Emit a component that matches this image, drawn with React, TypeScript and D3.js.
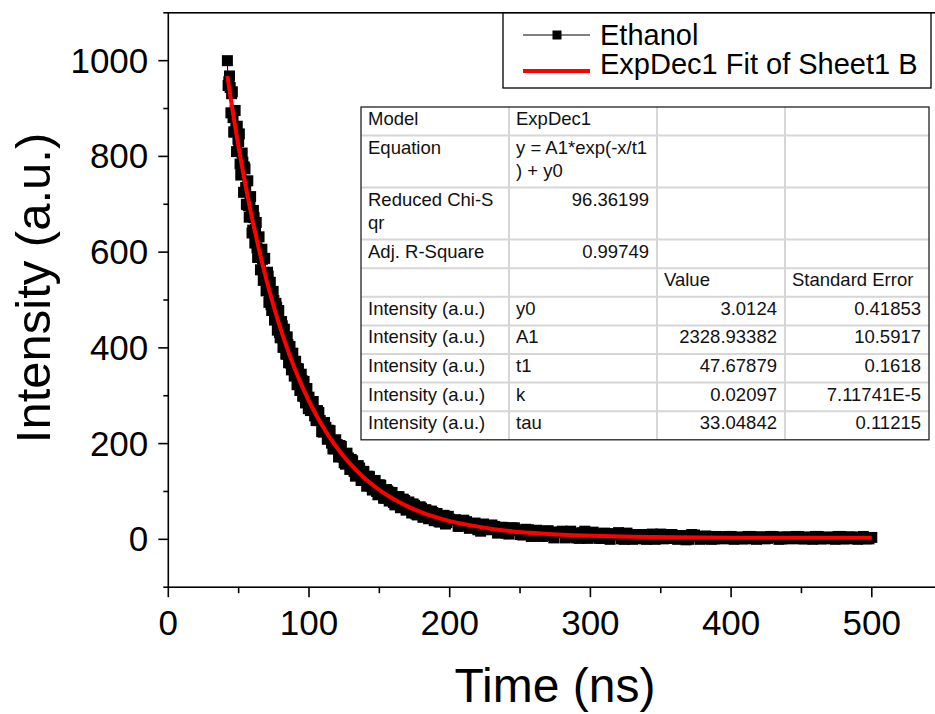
import React from "react";
import * as d3 from "d3";

// ---- data ----
const timeEarly = [42,43,44,45,46,47,48,49,50,51,52,53,54,55,56,57,58,59,60,61,62,63,64,65,66,67,68,69,70,71,72,73,74,75,76,77,78,79,80,81,82,83,84,85,86,87,88,89,90,91,92,93,94,95,96,97,98,99,100];
const intensityEarly = [1000,956,944,931,881,851,858,863,831,784,780,788,778,735,699,697,707,685,646,672,647,609,589,602,604,585,550,543,556,550,514,490,503,499,464,485,451,432,448,446,411,416,387,407,395,368,385,356,343,357,356,329,315,332,320,298,314,291,297];
const timeEarlyHalf = [42.5,43.5,44.5,45.5,46.5,47.5,48.5,49.5,50.5,51.5,52.5,53.5,54.5,55.5,56.5,57.5,58.5,59.5,60.5,61.5,62.5,63.5,64.5,65.5,66.5,67.5,68.5,69.5,70.5,71.5,72.5,73.5,74.5,75.5,76.5,77.5,78.5,79.5,80.5,81.5,82.5,83.5,84.5,85.5,86.5,87.5,88.5,89.5,90.5,91.5,92.5,93.5,94.5,95.5,96.5,97.5,98.5,99.5];
const intensityEarlyHalf = [948,968,891,935,851,896,810,836,847,761,807,725,774,700,749,673,716,640,687,619,662,589,632,563,606,541,587,519,558,495,537,478,518,458,493,437,478,421,455,401,439,387,423,369,403,354,389,341,372,323,356,311,345,299,330,285,315,273];
const timeMid = [102,104,106,108,110,112,114,116,118,120,122,124,126,128,130,132,134,136,138,140,142,144,146,148,150,152,154,156,158,160,162,164,166,168,170,172,174,176,178,180,182,184,186,188,190,192,194,196,198,200];
const intensityMid = [287,258,269,248,224,234,228,201,189,198,196,172,157,170,167,142,148,149,123,130,132,111,121,100,114,101,86,101,94,77,89,89,70,81,63,73,74,53,64,65,48,59,46,56,52,38,48,50,35,42];
const timeMidOdd = [101,103,105,107,109,111,113,115,117,119,121,123,125,127,129,131,133,135,137,139,141,143,145,147,149,151,153,155,157,159,161,163,165,167,169,171,173,175,177,179,181,183,185,187,189,191,193,195,197,199];
const intensityMidOdd = [269,288,248,265,225,244,209,227,189,208,172,194,160,180,146,164,132,154,123,142,111,131,103,123,93,113,86,104,80,98,72,89,66,84,61,78,55,71,51,68,46,62,43,59,39,54,36,50,32,48];
const timeLate = [204,208,212,216,220,224,228,232,236,240,244,248,252,256,260,264,268,272,276,280,284,288,292,296,300,304,308,312,316,320,324,328,332,336,340,344,348,352,356,360,364,368,372,376,380,384,388,392,396,400,404,408,412,416,420,424,428,432,436,440,444,448,452,456,460,464,468,472,476,480,484,488,492,496,500];
const intensityLate = [41,28,37,31,20,32,20,27,25,13,24,18,9,20,17,7,17,8,15,17,5,12,2,17,5,11,2,12,9,14,0,10,2,10,0,11,6,1,10,2,8,-1,10,6,2,6,1,5,2,6,4,1,6,2,5,1,6,4,1,5,2,6,1,4,6,1,4,2,6,1,5,2,4,1,4];
const timeLateMid = [206,210,214,218,222,226,230,234,238,242,246,250,254,258,262,266,270,274,278,282,286,290,294,298,302,306,310,314,318,322,326,330,334,338,342,346,350,354,358,362,366,370,374,378,382,386,390,394,398,402,406,410,414,418,422,426,430,434,438,442,446,450,454,458,462,466,470,474,478,482,486,490,494,498];
const intensityLateMid = [27,40,23,34,17,29,30,13,25,11,24,10,21,6,19,6,18,3,15,3,17,3,14,2,15,2,13,0,11,1,13,0,10,1,10,0,11,2,10,0,8,0,9,0,7,0,6,1,6,0,5,1,6,0,5,2,6,0,5,1,6,1,5,0,6,1,5,0,6,1,5,0,6,1];

const fitTime = [42,44,46,48,50,52,55,58,61,64,67,70,74,78,82,86,90,95,100,106,112,118,124,130,138,146,154,162,170,180,190,200,215,230,245,260,280,300,330,360,400,440,480,500];
const fitIntensity = [968,928.5,890.4,854,819,785.5,737.8,693,651,611.4,574.3,539.5,496.3,456.7,420.2,386.6,355.7,320.6,289,255.2,225.4,199.1,175.9,155.5,131.9,112,95.2,80.9,68.9,56.4,46.3,38.1,29.1,21.7,16.6,13.0,9.5,7.3,5.3,4.2,3.5,3.2,3.1,3.1];

const xTicks = [0, 100, 200, 300, 400, 500];
const xMinor = [50, 150, 250, 350, 450, 550];
const yTicks = [0, 200, 400, 600, 800, 1000];
const yMinor = [-100, 100, 300, 500, 700, 900, 1100];

const legendLabels = ["Ethanol", "ExpDec1 Fit of Sheet1 B"];

const tableRows: { cells: string[][]; tall: boolean }[] = [
  { cells: [["Model"], ["ExpDec1"], [""], [""]], tall: false },
  { cells: [["Equation"], ["y = A1*exp(-x/t1", ") + y0"], [""], [""]], tall: true },
  { cells: [["Reduced Chi-S", "qr"], ["96.36199"], [""], [""]], tall: true },
  { cells: [["Adj. R-Square"], ["0.99749"], [""], [""]], tall: false },
  { cells: [[""], [""], ["Value"], ["Standard Error"]], tall: false },
  { cells: [["Intensity (a.u.)"], ["y0"], ["3.0124"], ["0.41853"]], tall: false },
  { cells: [["Intensity (a.u.)"], ["A1"], ["2328.93382"], ["10.5917"]], tall: false },
  { cells: [["Intensity (a.u.)"], ["t1"], ["47.67879"], ["0.1618"]], tall: false },
  { cells: [["Intensity (a.u.)"], ["k"], ["0.02097"], ["7.11741E-5"]], tall: false },
  { cells: [["Intensity (a.u.)"], ["tau"], ["33.04842"], ["0.11215"]], tall: false },
];
const tableAlign: string[][] = [
  ["l", "l", "l", "l"],
  ["l", "l", "l", "l"],
  ["l", "r", "l", "l"],
  ["l", "r", "l", "l"],
  ["l", "l", "l", "l"],
  ["l", "l", "r", "r"],
  ["l", "l", "r", "r"],
  ["l", "l", "r", "r"],
  ["l", "l", "r", "r"],
  ["l", "l", "r", "r"],
];

const FONT = "Arial, 'Liberation Sans', Helvetica, sans-serif";

export default function App() {
  const W = 935, H = 714;
  const left = 168.3, top = 12.8, bottom = 587.2;
  const x = d3.scaleLinear().domain([0, 550]).range([left, left + 550 * 1.407]);
  const y = d3.scaleLinear().domain([-100, 1100]).range([bottom, top]);

  const time = [...timeEarly, ...timeEarlyHalf, ...timeMid, ...timeMidOdd, ...timeLate, ...timeLateMid];
  const inten = [...intensityEarly, ...intensityEarlyHalf, ...intensityMid, ...intensityMidOdd, ...intensityLate, ...intensityLateMid];
  const pts = time.map((t, i) => [t, inten[i]] as [number, number]).sort((a, b) => a[0] - b[0]);
  const fitPts = fitTime.map((t, i) => [t, fitIntensity[i]] as [number, number]);

  const line = d3.line<[number, number]>().x(d => x(d[0])).y(d => y(d[1]));
  const fitLine = d3.line<[number, number]>().x(d => x(d[0])).y(d => y(d[1])).curve(d3.curveMonotoneX);

  const sq = 11;
  const right = x(550);

  const tLeft = 361, tTop = 107;
  const colX = [361, 509, 657, 785, 929];
  const rowH = 28.6, tallH = 52;
  const rowTops: number[] = [];
  let acc = tTop;
  tableRows.forEach(r => { rowTops.push(acc); acc += r.tall ? tallH : rowH; });
  const tBottom = acc;

  return (
    <svg width={W} height={H} style={{ position: "absolute", left: 0, top: 0, background: "#fff" }} fontFamily={FONT}>
      <rect x={0} y={0} width={W} height={H} fill="#fff" />
      <path d={line(pts) || ""} fill="none" stroke="#000" strokeWidth={1} />
      {pts.map((p, i) => (
        <rect key={i} x={x(p[0]) - sq / 2} y={y(p[1]) - sq / 2} width={sq} height={sq} fill="#000" />
      ))}
      <path d={fitLine(fitPts) || ""} fill="none" stroke="#ff0000" strokeWidth={4} />

      <rect x={left} y={top} width={right - left} height={bottom - top} fill="none" stroke="#000" strokeWidth={1.6} />
      {yTicks.map(v => (
        <g key={"y" + v}>
          <line x1={left - 10} x2={left} y1={y(v)} y2={y(v)} stroke="#000" strokeWidth={1.6} />
          <text x={left - 20} y={y(v) + 12} textAnchor="end" fontSize={35} fill="#000">{v}</text>
        </g>
      ))}
      {yMinor.map(v => (
        <line key={"ym" + v} x1={left - 5} x2={left} y1={y(v)} y2={y(v)} stroke="#000" strokeWidth={1.6} />
      ))}
      {xTicks.map(v => (
        <g key={"x" + v}>
          <line x1={x(v)} x2={x(v)} y1={bottom} y2={bottom + 10} stroke="#000" strokeWidth={1.6} />
          <text x={x(v)} y={635} textAnchor="middle" fontSize={35} fill="#000">{v}</text>
        </g>
      ))}
      {xMinor.map(v => (
        <line key={"xm" + v} x1={x(v)} x2={x(v)} y1={bottom} y2={bottom + 6} stroke="#000" strokeWidth={1.6} />
      ))}
      <text x={555} y={702} textAnchor="middle" fontSize={48} fill="#000">Time (ns)</text>
      <text transform="translate(50,288) rotate(-90)" textAnchor="middle" fontSize={49} fill="#000">Intensity (a.u.)</text>

      <rect x={503} y={13} width={428} height={75} fill="#fff" stroke="#000" strokeWidth={1.3} />
      <line x1={523} x2={590} y1={35} y2={35} stroke="#000" strokeWidth={1} />
      <rect x={557 - 4.5} y={35 - 4.5} width={9} height={9} fill="#000" />
      <text x={600} y={45} fontSize={29} fill="#000">{legendLabels[0]}</text>
      <line x1={523} x2={590} y1={71} y2={71} stroke="#ff0000" strokeWidth={4} />
      <text x={600} y={74} fontSize={29} fill="#000">{legendLabels[1]}</text>

      <rect x={tLeft} y={tTop} width={colX[4] - tLeft} height={tBottom - tTop} fill="#fff" />
      {rowTops.slice(1).map((rt, i) => (
        <line key={"rl" + i} x1={tLeft} x2={colX[4]} y1={rt} y2={rt} stroke="#d6d6d6" strokeWidth={2} />
      ))}
      {colX.slice(1, 4).map((cx, i) => (
        <line key={"cl" + i} x1={cx} x2={cx} y1={tTop} y2={tBottom} stroke="#d6d6d6" strokeWidth={2} />
      ))}
      <rect x={tLeft} y={tTop} width={colX[4] - tLeft} height={tBottom - tTop} fill="none" stroke="#222" strokeWidth={1.3} />
      {tableRows.map((r, ri) =>
        r.cells.map((lines, ci) =>
          lines.map((txt, li) => {
            const al = tableAlign[ri][ci];
            const tx = al === "r" ? colX[ci + 1] - 8 : colX[ci] + 7;
            return (
              <text key={`${ri}-${ci}-${li}`} x={tx} y={rowTops[ri] + 18 + li * 23} textAnchor={al === "r" ? "end" : "start"} fontSize={18.5} fill="#111">{txt}</text>
            );
          })
        )
      )}
    </svg>
  );
}
